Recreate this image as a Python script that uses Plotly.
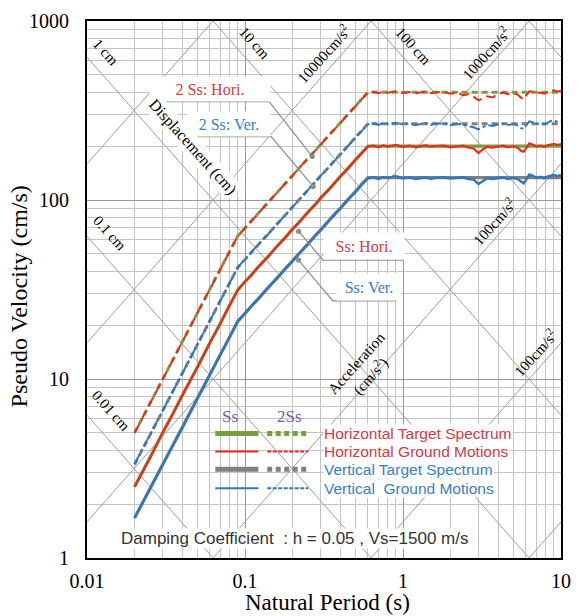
import plotly.graph_objects as go
import numpy as np

# ---------------- data ----------------
target_period = [0.02, 0.09, 0.6, 10.0]
target_h_ss = [2.5, 31.5, 200.0, 200.0]
target_h_2ss = [5.0, 63.0, 400.0, 400.0]
target_v_ss = [1.67, 21.0, 133.3, 133.3]
target_v_2ss = [3.33, 42.0, 266.7, 266.7]

gm_period = [0.02, 0.025, 0.03, 0.035, 0.04, 0.05, 0.06, 0.07, 0.08, 0.09,
             0.1, 0.11, 0.12, 0.14, 0.16, 0.18, 0.2, 0.22, 0.25, 0.28,
             0.3, 0.35, 0.4, 0.45, 0.5, 0.55, 0.6, 0.65, 0.7, 0.75,
             0.8, 0.9, 1.0, 1.1, 1.2, 1.3, 1.4, 1.5, 1.6, 1.8,
             2.0, 2.2, 2.4, 2.6, 2.8, 3.0, 3.2, 3.4, 3.7, 4.0,
             4.3, 4.6, 5.0, 5.3, 5.6, 5.8, 6.0, 6.3, 6.6, 7.0,
             7.4, 7.8, 8.2, 8.6, 9.0, 9.5, 10.0]
gm_h_ss = [2.5, 3.6, 5.0, 6.4, 8.1, 11.6, 16.0, 20.4, 26.0, 31.3,
           35.1, 38.0, 42.0, 48.1, 55.6, 61.5, 69.0, 74.8, 85.8, 94.6,
           102.5, 117.6, 135.5, 150.2, 168.1, 182.7, 199, 201, 197, 202,
           199, 203, 198, 201, 197, 200, 202, 198, 200, 201,
           197, 199, 201, 196, 194, 183, 192, 198, 196, 199,
           201, 197, 199, 196, 188, 186, 195, 207, 204, 199,
           201, 198, 202, 204, 206, 203, 205]
gm_v_ss = [1.68, 2.45, 3.3, 4.25, 5.3, 7.8, 10.5, 13.8, 17.1, 21.1,
           23.2, 25.7, 27.6, 32.5, 36.6, 41.5, 45.5, 50.4, 56.5, 63.9,
           67.5, 79.4, 89.2, 101.3, 110.6, 123.1, 132, 134, 131, 134,
           133, 136, 132, 134, 131, 133, 134, 131, 133, 134,
           132, 133, 134, 131, 130, 123, 128, 132, 131, 133,
           134, 131, 133, 131, 126, 124, 129, 139, 137, 133,
           135, 132, 135, 137, 138, 136, 138]
gm_h_2ss = [5.0, 7.3, 9.9, 12.9, 16.0, 23.5, 31.6, 41.3, 51.5, 63.0,
            69.5, 76.8, 83.2, 97.0, 110, 124, 137, 151, 170, 191,
            203, 237, 268, 303, 333, 368, 398, 402, 395, 404,
            397, 405, 396, 401, 393, 400, 404, 395, 399, 402,
            392, 398, 385, 390, 378, 360, 372, 380, 374, 392,
            398, 390, 395, 388, 372, 365, 382, 405, 402, 395,
            398, 392, 400, 405, 410, 404, 406]
gm_v_2ss = [3.35, 4.9, 6.6, 8.6, 10.7, 15.6, 21.2, 27.4, 34.5, 42.0,
            46.7, 50.9, 55.8, 64.4, 73.8, 82.4, 91.6, 100, 114, 127,
            136, 157, 180, 201, 223, 244, 265, 268, 263, 269,
            266, 270, 264, 268, 262, 266, 269, 263, 267, 268,
            262, 266, 264, 258, 255, 248, 256, 262, 259, 265,
            267, 262, 266, 261, 252, 250, 260, 275, 272, 266,
            268, 264, 270, 276, 278, 274, 276]

disp_levels_cm = [0.01, 0.1, 1, 10, 100, 1000]
acc_levels_cm_s2 = [1, 10, 100, 1000, 10000, 100000]

x_tick_vals = [0.01, 0.1, 1, 10]
x_tick_text = ["0.01", "0.1", "1", "10"]
y_tick_vals = [1, 10, 100, 1000]
y_tick_text = ["1", "10", "100", "1000"]

# ---------------- style ----------------
W, H = 581, 616
L, R, T, B = 87, 571, 19, 558
SERIF = "Liberation Serif, Times New Roman, serif"
SANS = "Liberation Sans, Arial, sans-serif"
GREEN = "#77a03a"
RED = "#ec2a1e"
BLUE = "#2f78be"
GRAY = "#7f7f7f"
RED_TXT = "#d23a44"
BLUE_TXT = "#3a7dc0"
PURPLE = "#7a5aa8"
DIAG = "#9e9e9e"


def px(x):
    return (x - L) / (R - L)


def py(y):
    return (B - y) / (B - T)


fig = go.Figure()

# tripartite diagonal lines
t_end = np.array([x_tick_vals[0], x_tick_vals[-1]])
for d in disp_levels_cm:
    fig.add_trace(go.Scatter(x=t_end, y=2 * np.pi * d / t_end, mode="lines",
                             line=dict(color=DIAG, width=1), hoverinfo="skip",
                             showlegend=False))
for a in acc_levels_cm_s2:
    fig.add_trace(go.Scatter(x=t_end, y=a * t_end / (2 * np.pi), mode="lines",
                             line=dict(color=DIAG, width=1), hoverinfo="skip",
                             showlegend=False))

# target spectra
fig.add_trace(go.Scatter(x=target_period, y=target_h_2ss, mode="lines",
                         line=dict(color=GREEN, width=3, dash="6px,4px"),
                         name="2Ss Horizontal Target"))
fig.add_trace(go.Scatter(x=target_period, y=target_v_2ss, mode="lines",
                         line=dict(color=GRAY, width=3, dash="6px,4px"),
                         name="2Ss Vertical Target"))
fig.add_trace(go.Scatter(x=target_period, y=target_h_ss, mode="lines",
                         line=dict(color=GREEN, width=3.2),
                         name="Ss Horizontal Target"))
fig.add_trace(go.Scatter(x=target_period, y=target_v_ss, mode="lines",
                         line=dict(color=GRAY, width=3.2),
                         name="Ss Vertical Target"))

# ground motions
fig.add_trace(go.Scatter(x=gm_period, y=gm_h_2ss, mode="lines",
                         line=dict(color=RED, width=2, dash="10px,5px"),
                         name="2Ss Horizontal GM"))
fig.add_trace(go.Scatter(x=gm_period, y=gm_v_2ss, mode="lines",
                         line=dict(color=BLUE, width=2, dash="11px,3px,3px,3px"),
                         name="2Ss Vertical GM"))
fig.add_trace(go.Scatter(x=gm_period, y=gm_h_ss, mode="lines",
                         line=dict(color=RED, width=2.2),
                         name="Ss Horizontal GM"))
fig.add_trace(go.Scatter(x=gm_period, y=gm_v_ss, mode="lines",
                         line=dict(color=BLUE, width=2.4),
                         name="Ss Vertical GM"))

shapes = []
annotations = []


def ann(text, x, y, size=15, color="black", font=SERIF, angle=0,
        xanchor="center", yanchor="middle", bg=None, **kw):
    d = dict(text=text, x=px(x), y=py(y), xref="paper", yref="paper",
             showarrow=False, textangle=angle, xanchor=xanchor,
             yanchor=yanchor, font=dict(family=font, size=size, color=color))
    if bg:
        d["bgcolor"] = bg
    d.update(kw)
    annotations.append(d)


def poly(points, color="#8c8c8c", width=1.2):
    path = "M " + " L ".join(f"{px(a):.5f},{py(b):.5f}" for a, b in points)
    shapes.append(dict(type="path", path=path, xref="paper", yref="paper",
                       line=dict(color=color, width=width), layer="above"))


def dot(x, y, r=2.6, color="#8c8c8c"):
    shapes.append(dict(type="circle", xref="paper", yref="paper",
                       x0=px(x - r), x1=px(x + r), y0=py(y + r), y1=py(y - r),
                       fillcolor=color, line=dict(width=0), layer="above"))


# callout labels
ann("2 Ss: Hori.", 213, 87, size=16, color=RED_TXT, bg="white",
    width=118, height=22)
poly([(153, 100), (273, 100), (317, 155)])
dot(317, 155)
ann("2 Ss: Ver.", 232, 122, size=16, color=BLUE_TXT, bg="white",
    width=80, height=22)
poly([(192, 135), (275, 135), (318, 185)])
dot(318, 185)
ann("Ss: Hori.", 370, 245, size=16, color=RED_TXT, bg="white",
    width=78, height=24)
poly([(303, 230), (328, 259), (410, 259)])
dot(303, 230)
ann("Ss: Ver.", 375, 286, size=16, color=BLUE_TXT, bg="white",
    width=62, height=24)
poly([(303, 259), (338, 300), (403, 300)])
dot(303, 259)

# diagonal scale labels
ANG = 48
ann("1 cm", 106, 50, size=15, angle=ANG)
ann("10 cm", 258, 41, size=15, angle=ANG)
ann("100 cm", 420, 44, size=15, angle=ANG)
ann("0.1 cm", 110, 232, size=15, angle=ANG)
ann("0.01 cm", 112, 410, size=15, angle=ANG)
ann("Displacement (cm)", 195, 145, size=16, angle=ANG, bg="white")
ann("10000cm/s<sup>2</sup>", 328, 52, size=15, angle=-ANG)
ann("1000cm/s<sup>2</sup>", 494, 51, size=15, angle=-ANG)
ann("100cm/s<sup>2</sup>", 503, 220, size=15, angle=-ANG)
ann("100cm/s<sup>2</sup>", 544, 352, size=15, angle=-ANG)
ann("Acceleration<br>(cm/s<sup>2</sup>)", 370, 370, size=15, angle=-ANG)

# custom legend
ann("Ss", 233, 416, size=17, color=PURPLE)
ann("2Ss", 294, 416, size=17, color=PURPLE)
legend_rows = [
    (433, GREEN, 5, "Horizontal Target Spectrum", RED_TXT, "5px,3.5px"),
    (451, RED, 2, "Horizontal Ground Motions", RED_TXT, "4px,1.5px"),
    (469, GRAY, 5, "Vertical Target Spectrum", BLUE_TXT, "5px,3.5px"),
    (488, BLUE, 2, "Vertical  Ground Motions", BLUE_TXT, "4px,1.5px"),
]
for yy, col, lw, label, tcol, dsh in legend_rows:
    shapes.append(dict(type="line", xref="paper", yref="paper",
                       x0=px(218), x1=px(262), y0=py(yy), y1=py(yy),
                       line=dict(color=col, width=lw), layer="above"))
    shapes.append(dict(type="line", xref="paper", yref="paper",
                       x0=px(271), x1=px(313), y0=py(yy), y1=py(yy),
                       line=dict(color=col, width=lw, dash=dsh), layer="above"))
    ann(label.replace("  ", "&nbsp; "), 328, yy, size=15.5, color=tcol,
        font=SANS, xanchor="left", bg="white", borderpad=0)

ann("Damping Coefficient&nbsp; : h = 0.05 , Vs=1500 m/s", 121, 538, size=17,
    color="#333333", font=SANS, xanchor="left", bg="white", borderpad=0)

# axis titles
ann("Pseudo Velocity (cm/s)", 18, 295, size=24, angle=-90)
ann("Natural Period (s)", 333, 603, size=23)

axis_common = dict(
    type="log", showline=True, linecolor="black", linewidth=2, mirror=True,
    showgrid=True, gridcolor="#9a9a9a", gridwidth=1, zeroline=False,
    ticks="", tickfont=dict(family=SERIF, size=20, color="black"),
    minor=dict(dtick="D1", showgrid=True, gridcolor="#c4c4c4", gridwidth=1,
               ticks=""),
)
fig.update_xaxes(range=[np.log10(x_tick_vals[0]), np.log10(x_tick_vals[-1])],
                 tickvals=x_tick_vals, ticktext=x_tick_text,
                 ticklabelstandoff=4, **axis_common)
fig.update_yaxes(range=[np.log10(y_tick_vals[0]), np.log10(y_tick_vals[-1])],
                 tickvals=y_tick_vals, ticktext=y_tick_text,
                 ticklabelstandoff=12, **axis_common)

fig.update_layout(
    width=W, height=H, autosize=False,
    margin=dict(l=L, r=W - R, t=T, b=H - B, pad=0),
    paper_bgcolor="white", plot_bgcolor="white",
    showlegend=False, shapes=shapes, annotations=annotations,
)

fig.write_html("out.html",
               config={"displayModeBar": False},
               post_script="document.body.style.margin='0px';"
                           "document.body.style.overflow='hidden';")
